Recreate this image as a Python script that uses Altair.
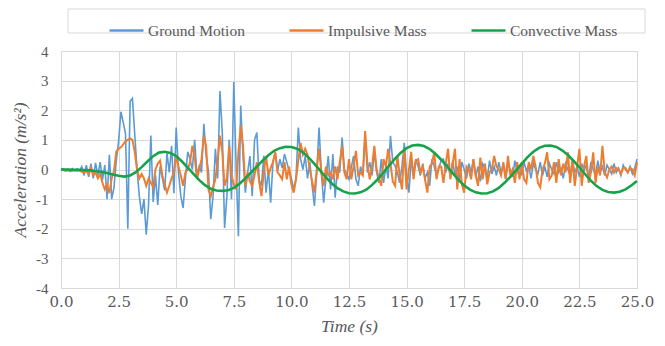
import altair as alt
import pandas as pd

# sampling instants (s)
time_fine = [round(i * 0.1, 1) for i in range(251)]
time_conv = [round(i * 0.25, 2) for i in range(101)]

ground_motion = [
    0.0, 0.02, -0.03, 0.01, -0.02, 0.03, -0.05, 0.02, -0.04, 0.1,
    -0.2, 0.15, -0.25, 0.2, -0.3, 0.22, -0.2, 0.25, -0.35, 0.15,
    -1.0, 0.5, -1.0, -0.6, 0.3, 0.95, 1.95, 1.6, 1.2, -2.0,
    2.3, 2.4, 1.2, 0.0, -0.9, -1.5, -1.0, -2.2, -1.2, 1.15,
    -1.1, -0.2, -1.2, 0.1, -0.3, -0.7, 0.55, -0.1, 0.8, -0.8,
    1.42, -0.1, -0.9, -1.3, -0.3, 0.6, 0.35, 0.0, 1.0, -0.2,
    0.12, -0.1, 1.54, 0.46, -0.05, -1.68, -0.9, 0.7, -0.3, 2.65,
    1.25, -1.97, -0.9, 1.0, -1.0, 2.95, 0.1, -2.25, 2.16, 0.46,
    -0.78, -0.1, 0.45, -0.9, 1.0, 1.25, -0.35, -0.55, 0.46, -0.78,
    0.0, -1.12, 0.25, 0.58, -0.05, 0.35, 0.05, 0.52, 0.25, -0.05,
    -0.3, -0.67, -0.3, 1.42, 0.35, 0.0, 0.45, -0.3, 0.25, -0.55,
    -1.23, -0.1, 1.42, -0.1, -1.12, -0.3, 0.45, -0.67, 0.52, -0.95,
    0.1, -0.1, 1.08, 0.0, -0.15, -0.33, 0.07, 0.46, -0.33, -0.55,
    0.1, -0.2, 1.14, -0.1, 0.25, -0.2, 0.58, -0.1, -0.45, 0.35,
    -0.45, 0.12, -0.3, 1.14, 0.25, 0.12, -0.1, -0.45, 0.12, 0.9,
    -0.2, -0.78, 0.3, -0.1, 0.35, 0.1, -0.2, 0.2, -0.3, -0.1,
    -0.55, 0.35, 0.1, -0.2, 0.05, 0.3, 0.35, -0.1, 0.2, -0.25,
    0.3, -0.2, 0.1, -0.35, 0.25, 0.0, -0.3, 0.2, -0.1, 0.35,
    -0.25, 0.1, -0.4, 0.2, 0.05, -0.3, 0.3, -0.15, 0.1, -0.2,
    0.25, -0.1, 0.15, -0.3, 0.2, 0.0, -0.25, 0.3, -0.1, 0.1,
    -0.2, 0.25, -0.05, 0.15, -0.3, 0.2, 0.0, -0.15, 0.25, -0.2,
    0.1, -0.25, 0.2, 0.0, -0.15, 0.25, -0.1, 0.05, -0.3, 0.2,
    0.0, -0.2, 0.3, -0.1, 0.1, -0.25, 0.2, -0.05, 0.15, -0.3,
    0.25, 0.0, -0.2, 0.3, -0.1, 0.1, -0.2, 0.15, 0.0, -0.15,
    0.2, -0.1, 0.05, -0.2, 0.15, 0.0, -0.1, 0.1, -0.15, 0.05,
    0.35,
]

impulsive_mass = [
    0.0, -0.02, -0.05, -0.03, -0.06, -0.04, -0.02, -0.05, -0.03, -0.08,
    -0.1, -0.05, -0.15, 0.05, -0.2, -0.1, -0.3, -0.15, -0.45, -0.67,
    -0.5, -0.8, -0.3, -0.05, 0.6, 0.7, 0.75, 0.85, 0.95, 1.0,
    1.05, 1.0, 0.6, 0.0, -0.3, -0.15, -0.3, -0.55, -0.3, -0.45,
    -0.6, 0.0, 0.2, 0.3, -0.2, -0.5, -0.78, -0.55, -0.3, -0.1,
    0.46, 0.1, -0.2, -0.55, -0.1, 0.0, 0.24, 0.8, 0.46, -0.33,
    0.0, 0.35, 1.14, 0.8, -0.67, -0.9, -0.6, -0.33, 0.3, 1.14,
    0.6, -0.55, -0.3, 0.8, -0.2, -0.5, -0.67, 0.58, 1.48, 0.8,
    -0.55, -0.1, -0.4, -0.55, -0.2, 0.25, -0.4, -0.9, -0.1, 0.46,
    -0.2, 0.05, 0.25, 0.58, -0.1, -0.2, -0.33, 0.25, -0.33, 0.1,
    -0.5, -0.78, -0.33, 0.3, 0.9, 0.5, 0.7, 0.5, 0.0, -0.4,
    -0.78, 0.0, 0.7, -0.1, -0.55, 0.1, -0.2, -0.1, -0.33, 0.1,
    -0.33, 0.25, 0.8, -0.1, -0.33, 0.35, -0.33, 0.1, 0.63, -0.2,
    -0.1, -0.2, 1.3, 0.2, -0.33, 0.1, 0.8, 0.0, -0.3, -0.55,
    0.35, 0.1, 0.7, 0.2, -0.4, -0.55, 0.46, -0.2, -0.67, 0.7,
    -0.67, 0.0, 0.6, -0.33, 0.3, 0.35, -0.1, 0.1, -0.33, -0.78,
    0.1, 0.2, 0.58, -0.33, 0.1, 0.1, -0.45, 0.2, 0.7, -0.33,
    0.2, 0.7, -0.67, 0.35, -0.5, -0.78, 0.1, 0.0, -0.33, 0.35,
    -0.2, -0.55, 0.4, -0.33, 0.2, -0.5, -0.1, 0.0, 0.46, 0.1,
    0.0, -0.2, 0.25, -0.33, 0.46, -0.2, 0.0, -0.45, 0.25, -0.33,
    0.25, -0.33, -0.45, 0.25, 0.0, 0.46, 0.1, -0.45, -0.6, 0.0,
    0.2, 0.58, -0.33, -0.2, 0.25, -0.45, 0.35, -0.2, 0.2, -0.1,
    0.58, -0.45, 0.35, -0.55, 0.1, 0.7, -0.55, 0.1, 0.46, -0.45,
    -0.1, 0.58, -0.45, 0.1, -0.2, 0.8, -0.1, -0.27, 0.0, 0.1,
    -0.1, 0.05, 0.0, -0.15, 0.05, 0.05, -0.1, 0.05, 0.0, -0.2,
    0.25,
]

convective_mass = [
    0.0, 0.0, -0.01, -0.01,
    -0.02, -0.03, -0.05, -0.08,
    -0.12, -0.17, -0.21, -0.24,
    -0.2, -0.09, 0.08, 0.27,
    0.45, 0.57, 0.6, 0.56,
    0.45, 0.27, 0.06, -0.15,
    -0.36, -0.53, -0.65, -0.71,
    -0.72, -0.7, -0.62, -0.48,
    -0.3, -0.1, 0.1, 0.3,
    0.48, 0.63, 0.72, 0.77,
    0.76, 0.7, 0.58, 0.4,
    0.19, -0.04, -0.27, -0.47,
    -0.63, -0.74, -0.8, -0.81,
    -0.77, -0.68, -0.52, -0.33,
    -0.1, 0.14, 0.37, 0.57,
    0.72, 0.81, 0.83, 0.79,
    0.69, 0.53, 0.33, 0.11,
    -0.12, -0.35, -0.54, -0.68,
    -0.77, -0.81, -0.8, -0.74,
    -0.62, -0.45, -0.25, -0.03,
    0.2, 0.42, 0.6, 0.73,
    0.8, 0.81, 0.76, 0.65,
    0.49, 0.29, 0.07, -0.16,
    -0.38, -0.56, -0.69, -0.76,
    -0.78, -0.75, -0.67, -0.54,
    -0.39,
]

series_names = ["Ground Motion", "Impulsive Mass", "Convective Mass"]
series_colors = ["#5b9bd5", "#ed7d31", "#17a34a"]
x_ticks = [0, 2.5, 5, 7.5, 10, 12.5, 15, 17.5, 20, 22.5, 25]
y_ticks = [-4, -3, -2, -1, 0, 1, 2, 3, 4]

df = pd.concat([
    pd.DataFrame({"t": time_fine, "a": ground_motion, "s": series_names[0]}),
    pd.DataFrame({"t": time_fine, "a": impulsive_mass, "s": series_names[1]}),
    pd.DataFrame({"t": time_conv, "a": convective_mass, "s": series_names[2]}),
], ignore_index=True)

x = alt.X("t:Q", scale=alt.Scale(domain=[0, 25], nice=False),
          axis=alt.Axis(values=x_ticks, format=".1f", title="Time (s)",
                        labelFlush=False, labelPadding=6, titlePadding=8,
                        labelFont="DejaVu Serif", titleFont="serif"))
y = alt.Y("a:Q", scale=alt.Scale(domain=[-4, 4], nice=False),
          axis=alt.Axis(values=y_ticks, labelExpr="datum.value", labelFlush=False,
                        title="Acceleration (m/s²)", labelPadding=13, titlePadding=6,
                        labelFont="Times New Roman", titleFont="Liberation Serif"))
color = alt.Color(
    "s:N",
    scale=alt.Scale(domain=series_names, range=series_colors),
    legend=alt.Legend(
        orient="none", legendX=47, legendY=-39, direction="horizontal", title=None,
        symbolType="stroke", symbolSize=1156, symbolStrokeWidth=2.5,
        labelFont="Liberation Serif", labelFontSize=15.5, labelColor="#595959",
        labelOffset=3, columnPadding=39, padding=0,
    ),
)

base = alt.Chart(df)
lines = []
for name, width in zip(series_names, [1.6, 2.0, 2.6]):
    lines.append(
        base.transform_filter(alt.datum.s == name)
        .mark_line(strokeWidth=width)
        .encode(x=x, y=y, color=color)
    )

box = alt.Chart(pd.DataFrame({"k": [0]})).mark_rect(
    fill="transparent", stroke="#d9d9d9", strokeWidth=1
).encode(x=alt.value(7), x2=alt.value(584), y=alt.value(-42), y2=alt.value(-18))

chart = (
    alt.layer(box, *lines)
    .properties(
        width=576, height=237,
        padding={"left": 53, "top": 43, "right": 20, "bottom": 50},
        autosize=alt.AutoSizeParams(type="none"),
    )
    .configure_view(stroke="#d9d9d9")
    .configure_axis(
        gridColor="#d9d9d9", domainColor="#d9d9d9", ticks=False,
        labelFontSize=15, labelColor="#595959",
        titleFontSize=17.5, titleFontStyle="italic",
        titleFontWeight="normal", titleColor="#595959",
    )
)

chart.save("out.html", embed_options={"renderer": "svg", "actions": False})
